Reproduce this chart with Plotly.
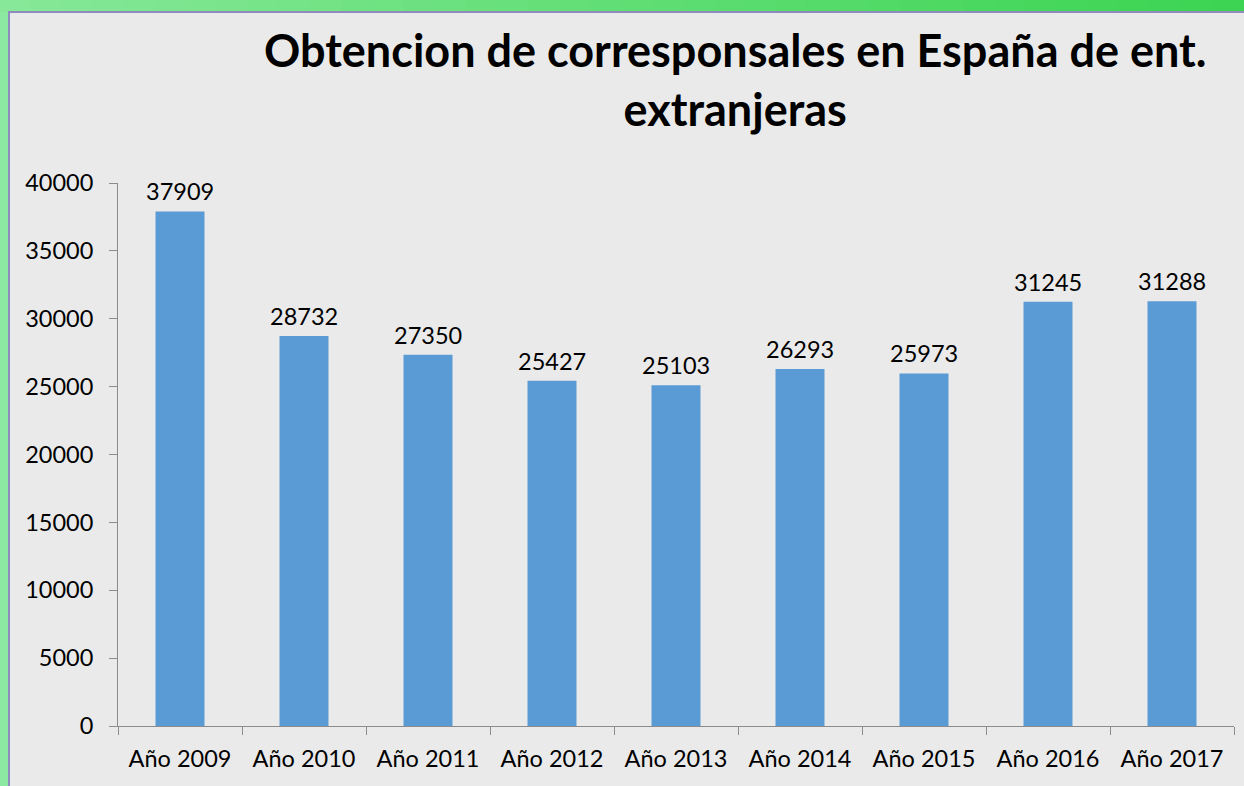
import plotly.graph_objects as go

categories = ["Año 2009", "Año 2010", "Año 2011", "Año 2012", "Año 2013",
              "Año 2014", "Año 2015", "Año 2016", "Año 2017"]
values = [37909, 28732, 27350, 25427, 25103, 26293, 25973, 31245, 31288]
y_ticks = [0, 5000, 10000, 15000, 20000, 25000, 30000, 35000, 40000]
title_text = "Obtencion de corresponsales en España de ent.<br>extranjeras"

W, H = 1244, 786
L, R, T, B = 118, 10, 183, 60
pw, ph = W - L - R, H - T - B

def px_x(px):
    return (px - L) / pw

def px_y(py):
    return (H - B - py) / ph

FONT = "Lato"
fig = go.Figure()
fig.add_trace(go.Bar(
    x=categories, y=values,
    marker=dict(color="#5B9BD5", line=dict(width=0)),
    width=0.395,
    hoverinfo="x+y",
))

annotations = []
for c, v in zip(categories, values):
    annotations.append(dict(x=c, y=v, xref="x", yref="y", text=str(v),
                            showarrow=False, yanchor="bottom", yshift=4,
                            font=dict(family=FONT, size=23.5, color="#000000")))
annotations.append(dict(x=px_x(735), y=px_y(21), xref="paper", yref="paper",
                        xanchor="center", yanchor="top", showarrow=False,
                        text=title_text,
                        font=dict(family=FONT, size=45, color="#000000", weight="bold")))

shapes = []
# green gradient frame (top band)
n = 40
c0 = (0x86, 0xe8, 0x98)
c1 = (0x3c, 0xd4, 0x52)
for i in range(n):
    t = i / (n - 1)
    c = tuple(int(round(c0[k] + (c1[k] - c0[k]) * t)) for k in range(3))
    shapes.append(dict(type="rect", xref="paper", yref="paper", layer="below",
                       x0=px_x(i * W / n - 1), x1=px_x((i + 1) * W / n + 1),
                       y0=px_y(12), y1=px_y(-2),
                       fillcolor="rgb(%d,%d,%d)" % c, line=dict(width=0)))
# left band
shapes.append(dict(type="rect", xref="paper", yref="paper", layer="below",
                   x0=px_x(-2), x1=px_x(9), y0=px_y(H + 2), y1=px_y(12),
                   fillcolor="#8ce9a2", line=dict(width=0)))
# gray panel with purple edge
shapes.append(dict(type="rect", xref="paper", yref="paper", layer="below",
                   x0=px_x(9), x1=px_x(W + 5), y0=px_y(H + 5), y1=px_y(12),
                   fillcolor="#EAEAEA", line=dict(width=2, color="#8f8bbd")))

fig.update_layout(
    width=W, height=H,
    margin=dict(l=L, r=R, t=T, b=B, autoexpand=False),
    paper_bgcolor="#EAEAEA",
    plot_bgcolor="rgba(0,0,0,0)",
    showlegend=False,
    shapes=shapes,
    annotations=annotations,
    xaxis=dict(showline=True, linecolor="#8c8c8c", linewidth=1,
               ticks="outside", ticklen=8, tickcolor="#8c8c8c",
               tickson="boundaries", showgrid=False,
               ticklabelstandoff=12,
               tickfont=dict(family=FONT, size=23.5, color="#000000")),
    yaxis=dict(range=[0, 40000], tickvals=y_ticks,
               ticktext=[str(v) for v in y_ticks],
               showline=True, linecolor="#8c8c8c", linewidth=1,
               ticks="outside", ticklen=8, tickcolor="#8c8c8c",
               showgrid=False, zeroline=False,
               tickfont=dict(family=FONT, size=23.5, color="#000000"),
               ticklabelstandoff=11),
)
fig.write_html("out.html", config={"displayModeBar": False},
               post_script="document.body.style.margin='0';document.body.style.overflow='hidden';")
